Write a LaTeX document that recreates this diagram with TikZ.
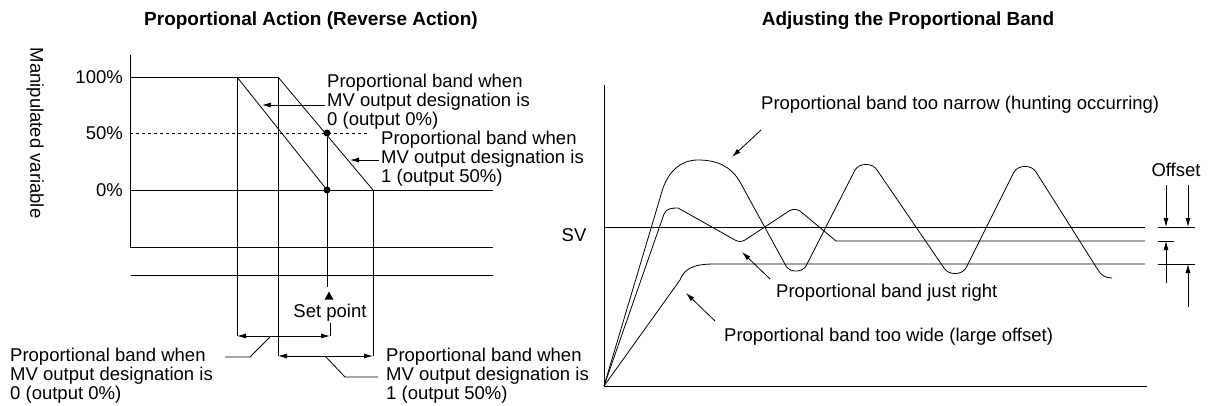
\documentclass[tikz,border=0pt]{standalone}
\usepackage{fontspec}
\setmainfont{Liberation Sans}
\usetikzlibrary{arrows.meta, shapes.geometric}

\begin{document}
\begin{tikzpicture}[x=1pt, y=-1pt,
    line/.style={thick},
    arrow/.style={thick, -{Latex[length=9pt,width=5pt]}},
    dblarrow/.style={thick, {Latex[length=9pt,width=5pt]}-{Latex[length=9pt,width=5pt]}},
    label/.style={font=\fontsize{18.5}{19}\selectfont, inner sep=0pt, align=left},
    title/.style={font=\fontsize{19}{20}\selectfont\bfseries, inner sep=0pt},
    dot/.style={circle, fill=black, inner sep=0pt, minimum size=7pt}
]
\useasboundingbox (0,0) rectangle (1209,406);

% Titles
\node[title] (titleL) at (311,21) {Proportional Action (Reverse Action)};
\node[title] (titleR) at (908,21) {Adjusting the Proportional Band};

% Left: axis and levels
\node[label, rotate=-90, anchor=north] (mv) at (44,133) {Manipulated variable};
\node[label, anchor=east] (p100) at (123,77) {100\%};
\node[label, anchor=east] (p50) at (123,133) {50\%};
\node[label, anchor=east] (p0) at (123,190) {0\%};
\draw[line] (130,55) -- (130,247) -- (493,247);
\draw[line] (130,77) -- (278,77);
\draw[line, dashed] (130,133) -- (368,133);
\draw[line] (130,190) -- (493,190);
\draw[line] (131,275) -- (493,275);

% Left: bands
\coordinate (a0) at (237,77);
\coordinate (b0) at (278,77);
\coordinate (a1) at (327,190);
\coordinate (b1) at (373,190);
\draw[line] (a0) -- (a1);
\draw[line] (b0) -- (b1);
\draw[line] (a0) -- (237,336);
\draw[line] (b0) -- (278,356);
\draw[line] (b1) -- (373,356);
\node[dot] (sp50) at (327,133) {};
\node[dot] (sp0) at (327,190) {};
\draw[line] (sp50) -- (327,287);
\node[fill=black, isosceles triangle, shape border rotate=90, inner sep=0pt, minimum width=9pt, minimum height=8pt, isosceles triangle stretches] (tri) at (329,297) {};
\node[label, anchor=north] (setpt) at (330,304) {Set point};
\draw[line] (330,323) -- (330,336);
\draw[dblarrow] (237,336) -- (330,336);
\draw[dblarrow] (278,356) -- (373,356);

% Left: labels
\node[label, anchor=north west] (band0) at (327,74) {Proportional band when\\MV output designation is\\0 (output 0\%)};
\node[label, anchor=north west] (band1) at (381,131) {Proportional band when\\MV output designation is\\1 (output 50\%)};
\draw[arrow] (325,105) -- (262,105);
\draw[arrow] (379,160) -- (350,160);
\node[label, anchor=north west] (band0b) at (10,348) {Proportional band when\\MV output designation is\\0 (output 0\%)};
\node[label, anchor=north west] (band1b) at (386,348) {Proportional band when\\MV output designation is\\1 (output 50\%)};
\draw[line] (270,337) -- (250,357) -- (225,357);
\draw[line] (325,356) -- (345,377) -- (378,377);

% Right: axes and levels
\draw[line] (604,85) -- (604,386) -- (1147,386);
\draw[line] (604,227) -- (1145,227);
\node[label] (sv) at (574,235) {SV};

% Right: responses
\draw[line] (604,386) -- (663,188) to[out=70,in=180] (698,160) to[out=0,in=120] (740,182)
  -- (786,266) to[out=-60,in=-120] (806,266) -- (855,170) to[out=60,in=120] (877,170)
  -- (944,268) to[out=-60,in=-120] (966,268) -- (1014,172) to[out=60,in=120] (1036,172)
  -- (1098,270) to[out=-60,in=180] (1112,278);
\draw[line] (604,386) -- (664,214) to[out=70,in=180] (678,208) -- (735,240)
  to[out=-30,in=-150] (745,240) -- (789,211) to[out=30,in=150] (800,211) -- (836,241) -- (1145,241);
\draw[line] (604,386) -- (680,280) to[out=70,in=180] (725,264) -- (1145,264);

% Right: labels
\node[label, anchor=west] (narrow) at (761,105) {Proportional band too narrow (hunting occurring)};
\node[label, anchor=west] (right) at (776,293) {Proportional band just right};
\node[label, anchor=west] (wide) at (724,337) {Proportional band too wide (large offset)};
\draw[arrow] (761,130) -- (732,157);
\draw[arrow] (770,279) -- (742,252);
\draw[arrow] (715,321) -- (686,293);

% Right: offset marks
\node[label] (offset) at (1176,170) {Offset};
\draw[line] (1158,227) -- (1195,227);
\draw[line] (1158,241) -- (1174,241);
\draw[line] (1158,264) -- (1195,264);
\draw[arrow] (1166,185) -- (1166,227);
\draw[arrow] (1188,185) -- (1188,227);
\draw[arrow] (1166,283) -- (1166,241);
\draw[arrow] (1188,307) -- (1188,264);
\end{tikzpicture}
\end{document}
